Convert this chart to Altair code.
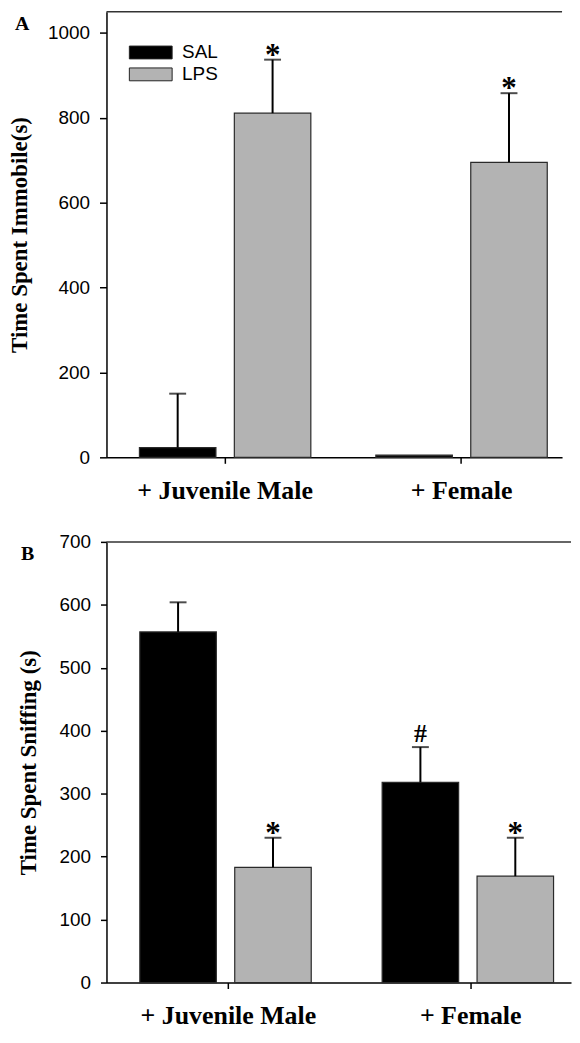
import altair as alt
import pandas as pd

groups = ["+ Juvenile Male", "+ Female"]
treatments = ["SAL", "LPS"]
colors = ["#000000", "#b3b3b3"]

# Panel A: Time spent immobile (s)
a_group = ["+ Juvenile Male", "+ Juvenile Male", "+ Female", "+ Female"]
a_treat = ["SAL", "LPS", "SAL", "LPS"]
a_mean = [23, 811, 5, 695]
a_sem = [127, 126, 0, 163]
a_mark = ["", "*", "", "*"]
a_ticks = [0, 200, 400, 600, 800, 1000]

# Panel B: Time spent sniffing (s)
b_group = ["+ Juvenile Male", "+ Juvenile Male", "+ Female", "+ Female"]
b_treat = ["SAL", "LPS", "SAL", "LPS"]
b_mean = [557, 183, 318, 169]
b_sem = [47, 47, 56, 61]
b_mark = ["", "*", "#", "*"]
b_ticks = [0, 100, 200, 300, 400, 500, 600, 700]

df_a = pd.DataFrame({"group": a_group, "treatment": a_treat, "mean": a_mean, "sem": a_sem, "mark": a_mark})
df_a["upper"] = df_a["mean"] + df_a["sem"]
df_b = pd.DataFrame({"group": b_group, "treatment": b_treat, "mean": b_mean, "sem": b_sem, "mark": b_mark})
df_b["upper"] = df_b["mean"] + df_b["sem"]
df_legend = pd.DataFrame({"treatment": treatments})

SERIF = "Liberation Serif"
SANS = "Liberation Sans"
LEGEND_PATH = "M-1,-0.3H1V0.3H-1Z"
color_scale = alt.Scale(domain=treatments, range=colors)


def panel(df, letter, letter_x, width, height, ymax, ticks, ytitle, tick_len, title_pad,
          p_in, p_out, align, off_in, show_legend):
    x = alt.X("group:N", sort=groups, title=None,
              scale=alt.Scale(paddingInner=p_in, paddingOuter=p_out, align=align),
              axis=alt.Axis(labelAngle=0, labelFont=SERIF, labelFontWeight="bold",
                            labelFontSize=26, tickSize=6, labelPadding=14,
                            domainWidth=1.5, tickWidth=1.5))
    xo = alt.XOffset("treatment:N", sort=treatments,
                     scale=alt.Scale(paddingInner=off_in, paddingOuter=0))
    y_scale = alt.Scale(domain=[0, ymax], nice=False)
    y_axis = alt.Axis(values=ticks, format="d", labelFont=SANS, labelFontSize=19,
                      tickSize=tick_len, labelPadding=10, title=ytitle, titleFont=SERIF,
                      titleFontWeight="bold", titleFontSize=23, titlePadding=title_pad,
                      domainWidth=1.5, tickWidth=1.5)
    base = alt.Chart(df).encode(x=x, xOffset=xo)
    bars = base.mark_bar(stroke="#2a2a2a", strokeWidth=1.2).encode(
        y=alt.Y("mean:Q", scale=y_scale, axis=y_axis),
        color=alt.Color("treatment:N", scale=color_scale, legend=None),
    )
    errs = base.transform_filter("datum.sem > 0")
    rule = errs.mark_rule(color="black", strokeWidth=2).encode(y="mean:Q", y2="upper:Q")
    cap = errs.mark_tick(color="black", thickness=2, size=17).encode(y="upper:Q")
    stars = base.transform_filter("datum.mark == '*'").mark_text(
        font=SERIF, fontWeight="bold", fontSize=31, baseline="alphabetic", dy=5,
        color="black").encode(y="upper:Q", text="mark:N")
    hashes = base.transform_filter("datum.mark == '#'").mark_text(
        font=SERIF, fontWeight="bold", fontSize=26, baseline="alphabetic", dy=-5,
        color="black").encode(y="upper:Q", text="mark:N")
    df_letter = pd.DataFrame({"panel": [letter]})
    lab = alt.Chart(df_letter).mark_text(
        font=SERIF, fontWeight="bold", fontSize=20, align="left", baseline="middle",
        color="black").encode(text="panel:N", x=alt.value(letter_x), y=alt.value(12))
    top = alt.Chart(df_letter).mark_rule(color="#333", strokeWidth=1.5).encode(
        x=alt.value(0), x2=alt.value(width), y=alt.value(0))
    layers = [bars, rule, cap, stars, hashes, top, lab]
    chart = alt.layer(*layers)
    if show_legend:
        ly = alt.Y("treatment:N",
                   scale=alt.Scale(domain=treatments, range=[41, 63], padding=0),
                   axis=None)
        sw = alt.Chart(df_legend).mark_point(
            shape=LEGEND_PATH, size=1849, filled=True, opacity=1, stroke="#222",
            strokeWidth=1).encode(
            x=alt.value(44.5), y=ly,
            color=alt.Color("treatment:N", scale=color_scale, legend=None))
        tx = alt.Chart(df_legend).mark_text(
            font=SANS, fontSize=19, align="left", baseline="middle", color="black").encode(
            x=alt.value(76), y=ly, text="treatment:N")
        chart = alt.layer(chart, sw, tx).resolve_scale(y="independent")
    return chart.properties(width=width, height=height)


chart_a = panel(df_a, "A", -92, 458, 448, 1050, a_ticks, "Time Spent Immobile(s)", 7, 16,
                0.275, 0.101, 0.69, 0.194, True)
chart_b = panel(df_b, "B", -86, 467, 443, 700, b_ticks, "Time Spent Sniffing (s)", 6, 19,
                0.269, 0.093, 0.74, 0.198, False)

chart = alt.concat(chart_a, chart_b, columns=1, spacing=30, align="none").properties(
    padding={"left": 0, "top": 0, "right": 0, "bottom": 0}
).configure_axis(
    domainColor="black", tickColor="black", labelColor="black", titleColor="black", grid=False
).configure_view(stroke=None)

chart.save("out.html", embed_options={"renderer": "svg", "actions": False})
